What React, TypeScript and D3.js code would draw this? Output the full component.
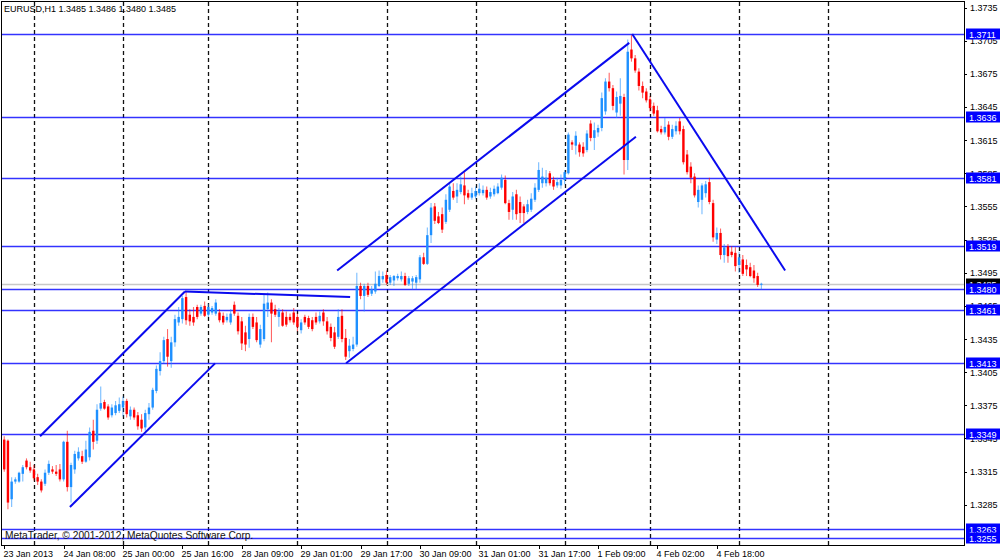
import { useEffect, useRef } from 'react';
import * as d3 from 'd3';

const headerText = 'EURUSD,H1  1.3485 1.3486 1.3480 1.3485';
const footerText = 'MetaTrader, © 2001-2012, MetaQuotes Software Corp.';

// H1 bars, 23 Jan 2013 16:00 onwards
const opens = [
  1.3344, 1.3343, 1.3290, 1.3306, 1.3306, 1.3313, 1.3325, 1.3319, 1.3317, 1.3310,
  1.3306, 1.3304, 1.3314, 1.3317, 1.3315, 1.3317, 1.3308, 1.3342, 1.3301, 1.3317,
  1.3327, 1.3329, 1.3324, 1.3328, 1.3352, 1.3343, 1.3372, 1.3378, 1.3374, 1.3366,
  1.3368, 1.3370, 1.3373, 1.3379, 1.3365, 1.3371, 1.3366, 1.3362, 1.3355, 1.3367,
  1.3373, 1.3388, 1.3406, 1.3415, 1.3435, 1.3415, 1.3432, 1.3450, 1.3453, 1.3473,
  1.3457, 1.3455, 1.3464, 1.3458, 1.3465, 1.3457, 1.3459, 1.3458, 1.3459, 1.3456,
  1.3452, 1.3450, 1.3466, 1.3456, 1.3451, 1.3441, 1.3435, 1.3455, 1.3450, 1.3430,
  1.3435, 1.3462, 1.3468, 1.3462, 1.3455, 1.3459, 1.3455, 1.3455, 1.3459, 1.3455,
  1.3443, 1.3455, 1.3454, 1.3452, 1.3455, 1.3451, 1.3459, 1.3451, 1.3446, 1.3441,
  1.3437, 1.3456, 1.3436, 1.3424, 1.3426, 1.3430, 1.3483, 1.3474, 1.3483, 1.3476,
  1.3478, 1.3483, 1.3489, 1.3493, 1.3486, 1.3488, 1.3490, 1.3489, 1.3492, 1.3485,
  1.3487, 1.3486, 1.3489, 1.3509, 1.3503, 1.3529, 1.3555, 1.3546, 1.3548, 1.3541,
  1.3552, 1.3569, 1.3564, 1.3568, 1.3574, 1.3567, 1.3563, 1.3564, 1.3567, 1.3567,
  1.3570, 1.3564, 1.3566, 1.3567, 1.3572, 1.3579, 1.3558, 1.3552, 1.3566, 1.3559,
  1.3555, 1.3550, 1.3552, 1.3561, 1.3570, 1.3576, 1.3576, 1.3585, 1.3579, 1.3574,
  1.3574, 1.3579, 1.3585, 1.3613, 1.3610, 1.3611, 1.3609, 1.3606, 1.3630, 1.3617,
  1.3622, 1.3626, 1.3641, 1.3668, 1.3662, 1.3640, 1.3648, 1.3654, 1.3597, 1.3697,
  1.3689, 1.3677, 1.3664, 1.3659, 1.3652, 1.3646, 1.3642, 1.3625, 1.3622, 1.3629,
  1.3618, 1.3623, 1.3632, 1.3625, 1.3602, 1.3591, 1.3582, 1.3559, 1.3561, 1.3567,
  1.3577, 1.3558, 1.3525, 1.3531, 1.3511, 1.3519, 1.3514, 1.3513, 1.3502, 1.3507,
  1.3502, 1.3500, 1.3497, 1.3492, 1.3485,
];
const highs = [
  1.3347, 1.3344, 1.3310, 1.3310, 1.3315, 1.3321, 1.3327, 1.3324, 1.3321, 1.3313,
  1.3308, 1.3317, 1.3325, 1.3320, 1.3321, 1.3322, 1.3343, 1.3352, 1.3323, 1.3334,
  1.3337, 1.3334, 1.3343, 1.3355, 1.3362, 1.3376, 1.3392, 1.3380, 1.3376, 1.3376,
  1.3379, 1.3382, 1.3383, 1.3381, 1.3374, 1.3373, 1.3369, 1.3367, 1.3371, 1.3377,
  1.3391, 1.3411, 1.3423, 1.3437, 1.3444, 1.3437, 1.3457, 1.3464, 1.3474, 1.3478,
  1.3462, 1.3464, 1.3466, 1.3466, 1.3469, 1.3467, 1.3465, 1.3471, 1.3462, 1.3459,
  1.3458, 1.3462, 1.3469, 1.3459, 1.3455, 1.3447, 1.3458, 1.3458, 1.3455, 1.3448,
  1.3476, 1.3477, 1.3471, 1.3466, 1.3463, 1.3462, 1.3460, 1.3458, 1.3463, 1.3458,
  1.3453, 1.3457, 1.3456, 1.3455, 1.3459, 1.3460, 1.3462, 1.3455, 1.3449, 1.3446,
  1.3462, 1.3462, 1.3444, 1.3435, 1.3437, 1.3495, 1.3486, 1.3485, 1.3486, 1.3483,
  1.3496, 1.3497, 1.3496, 1.3497, 1.3493, 1.3493, 1.3494, 1.3496, 1.3495, 1.3492,
  1.3492, 1.3493, 1.3511, 1.3513, 1.3536, 1.3558, 1.3558, 1.3550, 1.3554, 1.3566,
  1.3577, 1.3576, 1.3576, 1.3582, 1.3586, 1.3570, 1.3572, 1.3573, 1.3576, 1.3574,
  1.3573, 1.3572, 1.3574, 1.3576, 1.3584, 1.3583, 1.3561, 1.3568, 1.3570, 1.3564,
  1.3557, 1.3561, 1.3567, 1.3576, 1.3595, 1.3590, 1.3588, 1.3587, 1.3582, 1.3581,
  1.3584, 1.3588, 1.3622, 1.3615, 1.3623, 1.3613, 1.3613, 1.3624, 1.3633, 1.3631,
  1.3629, 1.3658, 1.3671, 1.3676, 1.3665, 1.3659, 1.3671, 1.3657, 1.3706, 1.3710,
  1.3692, 1.3680, 1.3668, 1.3662, 1.3655, 1.3649, 1.3646, 1.3628, 1.3635, 1.3632,
  1.3629, 1.3632, 1.3635, 1.3628, 1.3606, 1.3595, 1.3585, 1.3574, 1.3576, 1.3578,
  1.3581, 1.3561, 1.3536, 1.3535, 1.3521, 1.3521, 1.3519, 1.3518, 1.3514, 1.3511,
  1.3507, 1.3504, 1.3502, 1.3495, 1.3486,
];
const lows = [
  1.3315, 1.3281, 1.3283, 1.3304, 1.3305, 1.3306, 1.3317, 1.3314, 1.3307, 1.3303,
  1.3296, 1.3302, 1.3312, 1.3313, 1.3311, 1.3306, 1.3306, 1.3297, 1.3287, 1.3313,
  1.3325, 1.3322, 1.3323, 1.3325, 1.3335, 1.3340, 1.3370, 1.3371, 1.3362, 1.3364,
  1.3366, 1.3368, 1.3365, 1.3364, 1.3362, 1.3362, 1.3353, 1.3351, 1.3352, 1.3362,
  1.3371, 1.3386, 1.3402, 1.3413, 1.3410, 1.3409, 1.3428, 1.3447, 1.3449, 1.3448,
  1.3447, 1.3447, 1.3453, 1.3456, 1.3455, 1.3455, 1.3457, 1.3456, 1.3450, 1.3448,
  1.3450, 1.3448, 1.3456, 1.3439, 1.3425, 1.3424, 1.3427, 1.3444, 1.3432, 1.3427,
  1.3433, 1.3455, 1.3432, 1.3455, 1.3446, 1.3446, 1.3446, 1.3450, 1.3448, 1.3442,
  1.3440, 1.3448, 1.3444, 1.3442, 1.3448, 1.3449, 1.3447, 1.3439, 1.3433, 1.3426,
  1.3435, 1.3432, 1.3416, 1.3418, 1.3424, 1.3428, 1.3471, 1.3460, 1.3473, 1.3474,
  1.3476, 1.3482, 1.3486, 1.3484, 1.3484, 1.3483, 1.3488, 1.3487, 1.3483, 1.3483,
  1.3480, 1.3480, 1.3486, 1.3502, 1.3502, 1.3522, 1.3539, 1.3539, 1.3531, 1.3539,
  1.3550, 1.3561, 1.3558, 1.3566, 1.3557, 1.3561, 1.3561, 1.3562, 1.3565, 1.3565,
  1.3561, 1.3562, 1.3564, 1.3566, 1.3570, 1.3557, 1.3543, 1.3543, 1.3543, 1.3540,
  1.3540, 1.3548, 1.3550, 1.3559, 1.3568, 1.3572, 1.3573, 1.3574, 1.3570, 1.3572,
  1.3571, 1.3575, 1.3584, 1.3606, 1.3602, 1.3600, 1.3600, 1.3604, 1.3614, 1.3606,
  1.3618, 1.3623, 1.3638, 1.3659, 1.3642, 1.3635, 1.3637, 1.3584, 1.3588, 1.3686,
  1.3676, 1.3660, 1.3653, 1.3649, 1.3641, 1.3637, 1.3622, 1.3620, 1.3620, 1.3615,
  1.3616, 1.3620, 1.3620, 1.3593, 1.3584, 1.3576, 1.3563, 1.3554, 1.3548, 1.3563,
  1.3557, 1.3523, 1.3521, 1.3507, 1.3504, 1.3504, 1.3509, 1.3496, 1.3495, 1.3492,
  1.3492, 1.3491, 1.3486, 1.3482, 1.3480,
];
const closes = [
  1.3317, 1.3287, 1.3306, 1.3308, 1.3314, 1.3319, 1.3319, 1.3316, 1.3309, 1.3306,
  1.3298, 1.3314, 1.3322, 1.3315, 1.3313, 1.3308, 1.3342, 1.3301, 1.3321, 1.3331,
  1.3333, 1.3324, 1.3335, 1.3351, 1.3342, 1.3371, 1.3377, 1.3372, 1.3364, 1.3373,
  1.3375, 1.3376, 1.3379, 1.3367, 1.3371, 1.3364, 1.3356, 1.3354, 1.3368, 1.3373,
  1.3389, 1.3408, 1.3415, 1.3434, 1.3419, 1.3432, 1.3453, 1.3455, 1.3472, 1.3452,
  1.3451, 1.3450, 1.3455, 1.3464, 1.3456, 1.3464, 1.3463, 1.3468, 1.3452, 1.3450,
  1.3455, 1.3458, 1.3458, 1.3442, 1.3431, 1.3430, 1.3455, 1.3446, 1.3434, 1.3444,
  1.3467, 1.3468, 1.3458, 1.3457, 1.3460, 1.3447, 1.3448, 1.3452, 1.3450, 1.3446,
  1.3450, 1.3450, 1.3446, 1.3444, 1.3450, 1.3456, 1.3451, 1.3442, 1.3436, 1.3428,
  1.3455, 1.3435, 1.3419, 1.3429, 1.3430, 1.3483, 1.3474, 1.3483, 1.3475, 1.3480,
  1.3485, 1.3492, 1.3492, 1.3486, 1.3491, 1.3492, 1.3492, 1.3492, 1.3484, 1.3490,
  1.3490, 1.3491, 1.3509, 1.3503, 1.3529, 1.3554, 1.3542, 1.3540, 1.3534, 1.3561,
  1.3573, 1.3563, 1.3570, 1.3575, 1.3565, 1.3563, 1.3567, 1.3569, 1.3571, 1.3570,
  1.3563, 1.3568, 1.3571, 1.3573, 1.3581, 1.3558, 1.3550, 1.3564, 1.3548, 1.3549,
  1.3549, 1.3557, 1.3562, 1.3572, 1.3588, 1.3582, 1.3581, 1.3576, 1.3573, 1.3577,
  1.3579, 1.3586, 1.3620, 1.3611, 1.3619, 1.3604, 1.3603, 1.3621, 1.3617, 1.3624,
  1.3626, 1.3653, 1.3668, 1.3662, 1.3646, 1.3654, 1.3655, 1.3597, 1.3695, 1.3689,
  1.3678, 1.3664, 1.3658, 1.3651, 1.3644, 1.3639, 1.3623, 1.3622, 1.3627, 1.3618,
  1.3625, 1.3628, 1.3623, 1.3595, 1.3586, 1.3581, 1.3565, 1.3570, 1.3574, 1.3575,
  1.3559, 1.3527, 1.3531, 1.3511, 1.3518, 1.3510, 1.3511, 1.3501, 1.3509, 1.3494,
  1.3498, 1.3492, 1.3490, 1.3484, 1.3485,
];

// horizontal support / resistance levels
const levelLines = [1.3711, 1.3636, 1.3581, 1.3519, 1.348, 1.3461, 1.3413, 1.3349, 1.3263, 1.3255];
const bidPrice = 1.3485;

const priceTicks = [
  1.3735, 1.3705, 1.3675, 1.3645, 1.3615, 1.3585, 1.3555, 1.3525,
  1.3495, 1.3465, 1.3435, 1.3405, 1.3375, 1.3345, 1.3315, 1.3285,
];

// one label every 16 bars
const timeLabels = [
  '23 Jan 2013', '24 Jan 08:00', '25 Jan 00:00', '25 Jan 16:00', '28 Jan 09:00',
  '29 Jan 01:00', '29 Jan 17:00', '30 Jan 09:00', '31 Jan 01:00', '31 Jan 17:00',
  '1 Feb 09:00', '4 Feb 02:00', '4 Feb 18:00',
];
const labelEvery = 16;

const separatorDays = ['24 Jan', '25 Jan', '28 Jan', '29 Jan', '30 Jan', '31 Jan', '1 Feb', '4 Feb', '5 Feb', '6 Feb'];

// trend lines: [bar, price] anchors
const trendLines: [number, number, number, number][] = [
  [9.65, 1.3347, 48.7, 1.3478],
  [17.7, 1.3283, 56.8, 1.3413],
  [48.7, 1.3478, 93.2, 1.3473],
  [89.7, 1.3497, 168.4, 1.3703],
  [92.1, 1.3413, 170.2, 1.3618],
  [169.2, 1.3711, 210.4, 1.3497],
];

const firstBar = Date.UTC(2013, 0, 23, 16);
const visibleSlots = 259;

function buildTimes(n: number) {
  const out: Date[] = [];
  let t = firstBar;
  while (out.length < n) {
    const d = new Date(t);
    const wd = d.getUTCDay();
    const h = d.getUTCHours();
    const closed = (wd === 5 && h === 23) || wd === 6 || wd === 0;
    if (!closed) out.push(d);
    t += 3600000;
  }
  return out;
}

export default function App() {
  const svgRef = useRef<SVGSVGElement>(null);

  useEffect(() => {
    if (!svgRef.current) return;
    const svg = d3.select(svgRef.current);
    svg.selectAll('*').remove();

    const left = 2;
    const right = 964;
    const top = 2;
    const bottom = 545;
    const font = 'Liberation Sans, Arial, sans-serif';
    const bull = '#1e90ff';
    const bear = '#ff0000';
    const lineBlue = '#0000ff';

    const x = d3.scaleLinear().domain([-0.6, visibleSlots - 0.4]).range([left, right]);
    const y = d3.scaleLinear().domain([1.374, 1.32486]).range([top, bottom]);
    const times = buildTimes(visibleSlots);
    const dayFmt = d3.utcFormat('%-d %b');

    svg.append('rect').attr('width', 1000).attr('height', 560).attr('fill', '#fff');

    svg.append('defs').append('clipPath').attr('id', 'plot')
      .append('rect').attr('x', left).attr('y', top).attr('width', right - left).attr('height', bottom - top);

    const plot = svg.append('g').attr('clip-path', 'url(#plot)');

    // day separators
    const sepIdx = times
      .map((t, i) => ({ t, i }))
      .filter((d) => d.t.getUTCHours() === 0 && separatorDays.includes(dayFmt(d.t)));
    plot.selectAll('.sep')
      .data(sepIdx)
      .enter()
      .append('line')
      .attr('x1', (d) => Math.round(x(d.i)) + 0.5)
      .attr('x2', (d) => Math.round(x(d.i)) + 0.5)
      .attr('y1', top)
      .attr('y2', bottom)
      .attr('stroke', '#111')
      .attr('stroke-width', 1.3)
      .attr('stroke-dasharray', '4,3');

    // bid line
    plot.append('line')
      .attr('x1', left).attr('x2', right)
      .attr('y1', Math.round(y(bidPrice)) + 0.5).attr('y2', Math.round(y(bidPrice)) + 0.5)
      .attr('stroke', '#c8c8c8').attr('stroke-width', 1.5);

    // level lines
    plot.selectAll('.lvl')
      .data(levelLines)
      .enter()
      .append('line')
      .attr('x1', left).attr('x2', right)
      .attr('y1', (d) => Math.round(y(d)) + 0.5)
      .attr('y2', (d) => Math.round(y(d)) + 0.5)
      .attr('stroke', lineBlue)
      .attr('stroke-opacity', 0.8)
      .attr('stroke-width', 1.4);

    // candles
    const idx = d3.range(closes.length);
    const candles = plot.selectAll('.c').data(idx).enter().append('g');
    candles.append('line')
      .attr('x1', (i) => x(i)).attr('x2', (i) => x(i))
      .attr('y1', (i) => y(highs[i])).attr('y2', (i) => y(lows[i]))
      .attr('stroke', (i) => (closes[i] >= opens[i] ? bull : bear))
      .attr('stroke-opacity', 0.6)
      .attr('stroke-width', 1.1);
    candles.append('rect')
      .attr('x', (i) => x(i) - 1.2)
      .attr('width', 2.4)
      .attr('y', (i) => y(Math.max(opens[i], closes[i])))
      .attr('height', (i) => Math.max(1, Math.abs(y(opens[i]) - y(closes[i]))))
      .attr('fill', (i) => (closes[i] >= opens[i] ? bull : bear));

    // trend lines
    plot.selectAll('.trend')
      .data(trendLines)
      .enter()
      .append('line')
      .attr('x1', (d) => x(d[0])).attr('y1', (d) => y(d[1]))
      .attr('x2', (d) => x(d[2])).attr('y2', (d) => y(d[3]))
      .attr('stroke', '#0a0aee')
      .attr('stroke-width', 2);

    // header and footer
    svg.append('text').attr('x', 4).attr('y', 12)
      .attr('font-family', font).attr('font-size', 9).attr('fill', '#000')
      .text(headerText);
    plot.append('text').attr('x', 5).attr('y', 539)
      .attr('font-family', font).attr('font-size', 10.2).attr('fill', '#111')
      .text(footerText);

    // frame
    svg.append('rect')
      .attr('x', left - 0.5).attr('y', top - 0.5)
      .attr('width', right - left + 1).attr('height', bottom - top + 1)
      .attr('fill', 'none').attr('stroke', '#000').attr('stroke-width', 1);

    // price axis
    const pa = svg.append('g');
    pa.selectAll('.pt').data(priceTicks).enter().append('line')
      .attr('x1', right).attr('x2', right + 3)
      .attr('y1', (d) => Math.round(y(d)) + 0.5).attr('y2', (d) => Math.round(y(d)) + 0.5)
      .attr('stroke', '#000');
    pa.selectAll('.pl').data(priceTicks).enter().append('text')
      .attr('x', right + 6).attr('y', (d) => y(d) + 3.5)
      .attr('font-family', font).attr('font-size', 9).attr('fill', '#000')
      .text((d) => d.toFixed(4));

    const tag = (price: number, fill: string) => {
      const yy = Math.round(y(price));
      pa.append('rect').attr('x', right + 2).attr('y', yy - 5.5).attr('width', 1000 - right - 2).attr('height', 11)
        .attr('fill', fill);
      pa.append('text').attr('x', right + 5).attr('y', yy + 3.5)
        .attr('font-family', font).attr('font-size', 9).attr('fill', '#fff')
        .text(price.toFixed(4));
    };
    tag(bidPrice, '#000');
    levelLines.forEach((p) => tag(p, lineBlue));

    // time axis
    const ta = svg.append('g');
    timeLabels.forEach((label, k) => {
      const xx = Math.round(x(k * labelEvery)) + 0.5;
      ta.append('line').attr('x1', xx).attr('x2', xx).attr('y1', bottom).attr('y2', bottom + 4).attr('stroke', '#000');
      ta.append('text').attr('x', xx - 1).attr('y', 557)
        .attr('font-family', font).attr('font-size', 9).attr('fill', '#000')
        .text(label);
    });

    return () => {
      svg.selectAll('*').remove();
    };
  }, []);

  return (
    <div style={{ position: 'absolute', left: 0, top: 0 }}>
      <svg ref={svgRef} width={1000} height={560} style={{ display: 'block' }} />
    </div>
  );
}
